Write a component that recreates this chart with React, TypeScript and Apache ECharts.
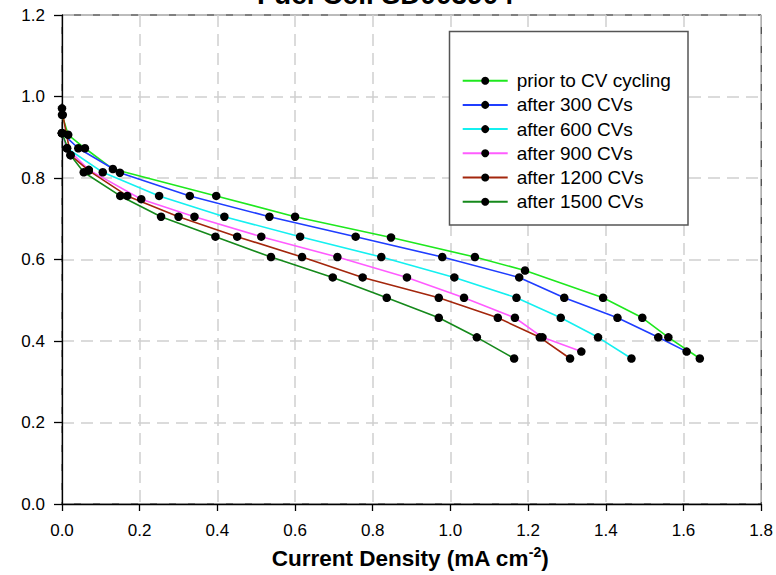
import React, { useEffect, useRef } from "react";
import * as echarts from "echarts";

const seriesNames = [
  "prior to CV cycling",
  "after 300 CVs",
  "after 600 CVs",
  "after 900 CVs",
  "after 1200 CVs",
  "after 1500 CVs",
];
const seriesColors = ["#1ee81e", "#1f3dff", "#14f0f0", "#ff5cff", "#a3260c", "#15891b"];

const prior = [
  [0, 0.955], [0.016, 0.906], [0.059, 0.873], [0.131, 0.822], [0.397, 0.756], [0.6, 0.705],
  [0.847, 0.654], [1.063, 0.606], [1.192, 0.573], [1.393, 0.506], [1.494, 0.457],
  [1.561, 0.409], [1.642, 0.357],
];
const after300 = [
  [0, 0.91], [0.042, 0.873], [0.149, 0.813], [0.329, 0.756], [0.534, 0.705], [0.756, 0.656],
  [0.979, 0.606], [1.177, 0.556], [1.293, 0.506], [1.43, 0.457], [1.535, 0.409], [1.608, 0.374],
];
const after600 = [
  [0, 0.91], [0.013, 0.873], [0.105, 0.814], [0.25, 0.756], [0.418, 0.705], [0.613, 0.656],
  [0.822, 0.606], [1.01, 0.556], [1.17, 0.506], [1.284, 0.457], [1.38, 0.409], [1.466, 0.357],
];
const after900 = [
  [0, 0.91], [0.013, 0.873], [0.069, 0.82], [0.204, 0.748], [0.341, 0.705], [0.513, 0.656],
  [0.709, 0.606], [0.888, 0.556], [1.035, 0.506], [1.166, 0.457], [1.237, 0.409], [1.337, 0.374],
];
const after1200 = [
  [0, 0.971], [0.002, 0.955], [0.022, 0.856], [0.069, 0.818], [0.168, 0.756], [0.3, 0.705],
  [0.451, 0.656], [0.618, 0.606], [0.774, 0.556], [0.97, 0.506], [1.122, 0.457],
  [1.23, 0.409], [1.308, 0.357],
];
const after1500 = [
  [0, 0.91], [0.022, 0.856], [0.056, 0.814], [0.15, 0.756], [0.255, 0.705], [0.395, 0.656],
  [0.538, 0.606], [0.697, 0.556], [0.836, 0.506], [0.97, 0.457], [1.068, 0.409], [1.164, 0.357],
];
const seriesData = [prior, after300, after600, after900, after1200, after1500];

const titleText = "Fuel Cell SD003904";
const xAxisTitle = "Current Density (mA cm";
const xAxisTitleSup = "-2";

const FONT = "'Liberation Sans', Arial, sans-serif";

export default function App() {
  const ref = useRef<HTMLDivElement>(null);
  useEffect(() => {
    document.body.style.margin = "0";
    if (!ref.current) return;
    const chart = echarts.init(ref.current, undefined, { renderer: "svg" });
    const gridLine = { show: true, lineStyle: { type: [12, 7], color: "#d0d0d0", width: 1.5 } };
    chart.setOption({
      animation: false,
      backgroundColor: "#fff",
      textStyle: { fontFamily: FONT },
      grid: {
        left: 62, top: 15, width: 700, height: 489,
        show: true, borderColor: "#000", borderWidth: 1, backgroundColor: "transparent",
      },
      xAxis: {
        type: "value", min: 0, max: 1.8, interval: 0.2,
        axisLine: { show: true, lineStyle: { color: "#000", width: 1.3 } },
        axisTick: { show: true, inside: false, length: 7, lineStyle: { color: "#000", width: 1.3 } },
        axisLabel: {
          margin: 18, fontSize: 17, color: "#000", fontFamily: FONT,
          formatter: (v: number) => v.toFixed(1),
        },
        splitLine: gridLine,
      },
      yAxis: {
        type: "value", min: 0, max: 1.2, interval: 0.2,
        axisLine: { show: true, onZero: false, lineStyle: { color: "#000", width: 1.3 } },
        axisTick: { show: true, inside: false, length: 8, lineStyle: { color: "#000", width: 1.3 } },
        axisLabel: {
          margin: 17, fontSize: 17, color: "#000", fontFamily: FONT,
          formatter: (v: number) => v.toFixed(1),
        },
        splitLine: gridLine,
      },
      legend: {
        orient: "vertical",
        left: 461.7,
        top: 70.7,
        padding: 0,
        itemWidth: 45,
        itemHeight: 10,
        itemGap: 4.2,
        z: 5,
        textStyle: { fontSize: 19, lineHeight: 20, color: "#000", fontFamily: FONT, padding: [0, 0, 0, 4] },
        data: seriesNames,
      },
      graphic: [
        {
          type: "rect", z: 1, silent: true,
          shape: { x: 449.5, y: 31.5, width: 238.5, height: 193.5 },
          style: { fill: "#fff", stroke: "#555", lineWidth: 1.5 },
        },
        {
          type: "text", z: 5, x: 257, y: -6,
          style: {
            text: titleText, fontSize: 28, fontWeight: "bold", fill: "#000",
            fontFamily: FONT, align: "left", verticalAlign: "middle",
          },
        },
        {
          type: "text", z: 5, x: 410, y: 558,
          style: {
            text: `{a|${xAxisTitle}}{b|${xAxisTitleSup}}{a|)}`,
            align: "center", verticalAlign: "middle", fill: "#000",
            rich: {
              a: { fontSize: 22.5, fontWeight: "bold", fontFamily: FONT, fill: "#000", lineHeight: 26 },
              b: { fontSize: 14, fontWeight: "bold", fontFamily: FONT, fill: "#000", verticalAlign: "top", lineHeight: 26 },
            },
          },
        },
      ],
      series: seriesData.map((d, i) => ({
        name: seriesNames[i],
        type: "line",
        data: d,
        symbol: "circle",
        symbolSize: 8.5,
        showSymbol: true,
        z: 3,
        itemStyle: { color: "#000" },
        lineStyle: { color: seriesColors[i], width: 1.6 },
        emphasis: { disabled: true },
      })),
    });
    return () => chart.dispose();
  }, []);
  return <div ref={ref} style={{ width: 776, height: 575 }} />;
}
